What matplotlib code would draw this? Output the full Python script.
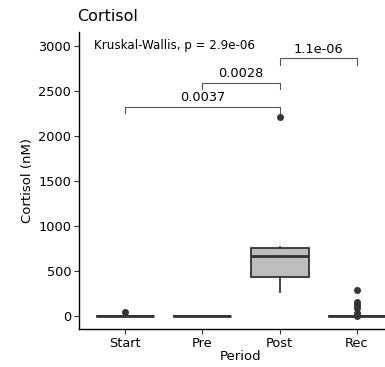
import numpy as np
import matplotlib
matplotlib.use("Agg")
import matplotlib.pyplot as plt

periods = ["Start", "Pre", "Post", "Rec"]
q1 = [0, 0, 430, 0]
med = [0, 0, 670, 0]
q3 = [5, 3, 755, 5]
whislo = [0, 0, 270, 0]
whishi = [5, 3, 770, 5]
fliers = [[42], [], [2210], [290, 160, 125, 85, 30, 5]]

comparisons = [(1, 3, 2320, "0.0037"), (2, 3, 2590, "0.0028"), (3, 4, 2860, "1.1e-06")]
kw_text = "Kruskal-Wallis, p = 2.9e-06"

dark = "#333333"
plt.rcParams['font.family'] = ['DejaVu Sans']

fig = plt.figure(figsize=(3.85, 3.67), dpi=100)
ax = fig.add_axes([0.205, 0.1035, 0.842, 0.81])

stats = []
for i in range(len(periods)):
    stats.append(dict(med=med[i], q1=q1[i], q3=q3[i], whislo=whislo[i],
                      whishi=whishi[i], fliers=fliers[i], label=periods[i]))
ax.bxp(stats, positions=range(1, 5), widths=0.75, patch_artist=True, showcaps=False,
       boxprops=dict(facecolor="#bdbdbd", edgecolor=dark, linewidth=1.3),
       medianprops=dict(color=dark, linewidth=2.0),
       whiskerprops=dict(color=dark, linewidth=1.3),
       flierprops=dict(marker="o", markerfacecolor=dark, markeredgecolor=dark, markersize=4))

for a, b, y, lab in comparisons:
    ax.plot([a, a, b, b], [y - 70, y, y, y - 70], color="#555555", linewidth=0.8)
    ax.text((a + b) / 2, y + 30, lab, ha="center", va="bottom", fontsize=9.3)

ax.text(0.6, 3000, kw_text, ha="left", va="center", fontsize=8.6)

ax.set_xlim(0.4, 4.6)
ax.set_ylim(-145, 3155)
ax.set_yticks([0, 500, 1000, 1500, 2000, 2500, 3000])
ax.set_xticks(range(1, 5))
ax.set_xticklabels(periods)
ax.tick_params(labelsize=9.3, length=3.5, color=dark, labelcolor="black", pad=2)
for s in ["top", "right"]:
    ax.spines[s].set_visible(False)
for s in ["left", "bottom"]:
    ax.spines[s].set_color("black")
    ax.spines[s].set_linewidth(1.0)

ax.set_xlabel("Period", fontsize=9.5, labelpad=0)
ax.set_ylabel("Cortisol (nM)", fontsize=9.5, labelpad=3)
ax.set_title("Cortisol", loc="left", fontsize=11.5, x=-0.005, pad=8)

fig.savefig("out.png", dpi=100)
